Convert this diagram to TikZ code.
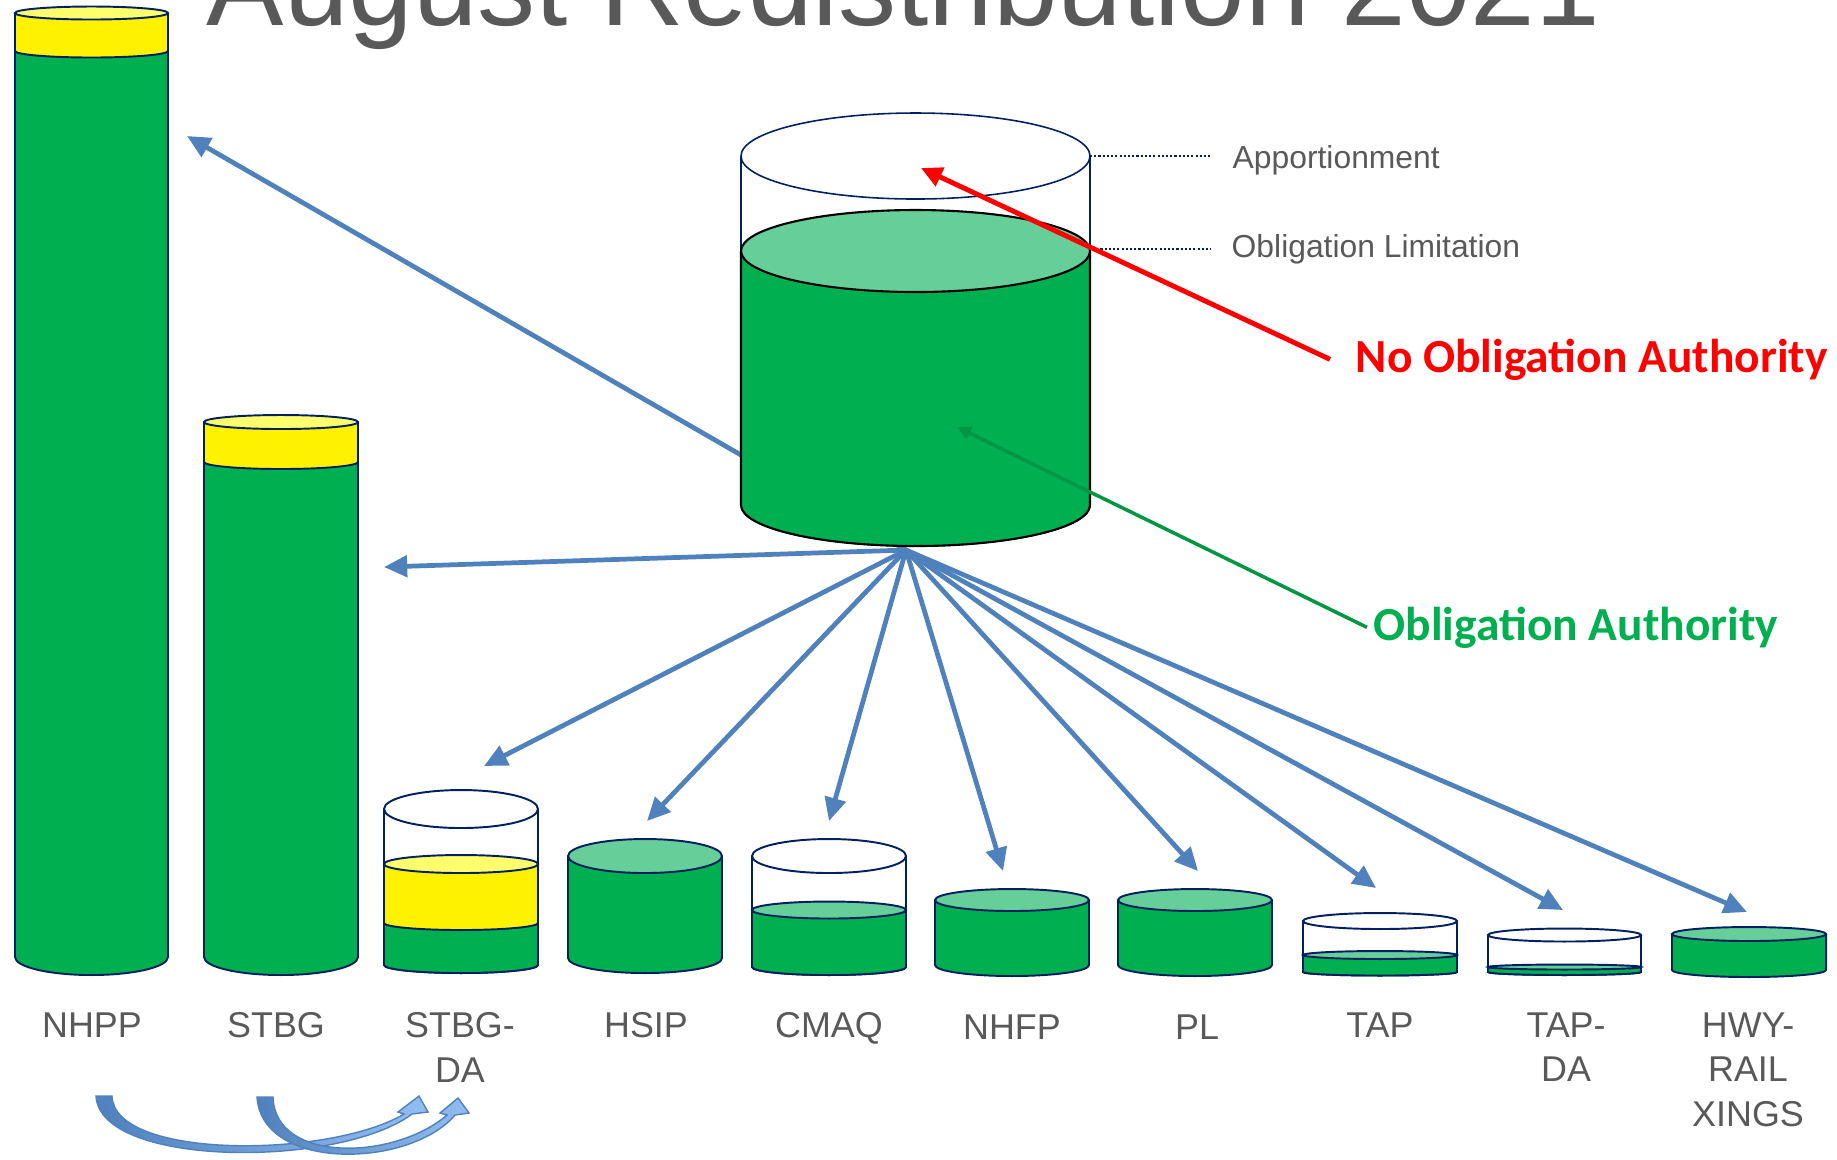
\documentclass[tikz,border=0pt]{standalone}
\usepackage{fontspec}
\setmainfont{Liberation Sans}
\newfontfamily\calibri{Carlito}
\usetikzlibrary{arrows.meta}

\definecolor{fillgreen}{RGB}{0,176,80}
\definecolor{topgreen}{RGB}{102,206,152}
\definecolor{navy}{RGB}{0,32,96}
\definecolor{flowblue}{RGB}{79,129,189}
\definecolor{paleblue}{RGB}{146,190,242}
\definecolor{textgray}{RGB}{89,89,89}
\definecolor{topyellow}{RGB}{255,255,110}

\newcommand{\canbody}[6]{%
  \filldraw[#1] (#2,#4) -- (#2,#5)
    arc[start angle=180,end angle=0,x radius={(#3-#2)/2},y radius=#6] -- (#3,#4);}
\newcommand{\canlid}[5]{%
  \filldraw[#1] ({(#2+#3)/2},#4) ellipse[x radius={(#3-#2)/2},y radius=#5];}

\begin{document}
\begin{tikzpicture}[x=0.01cm,y=-0.01cm,
                    can/.style={fill=fillgreen,draw=navy,line width=0.55pt},
                    lid/.style={fill=topgreen,draw=navy,line width=0.55pt},
                    glass/.style={fill=white,draw=navy,line width=0.55pt},
                    band/.style={fill=yellow,draw=navy,line width=0.55pt},
                    bandlid/.style={fill=topyellow,draw=navy,line width=0.55pt},
                    flow/.style={flowblue,line width=1.35pt,-{Triangle[length=6.6pt,width=6pt]}},
                    bendarrow/.style={left color=flowblue,right color=paleblue,draw=flowblue,line width=0.4pt},
                    leader/.style={draw=navy,line width=0.7pt,dash pattern=on 0.6pt off 0.6pt},
                    label/.style={text=textgray,font=\fontsize{10.2}{12.66}\selectfont,align=center,inner sep=0pt,anchor=north},
                    note/.style={text=textgray,font=\fontsize{9.05}{11}\selectfont,anchor=base west,inner ysep=0pt,inner xsep=0.2cm}]

\useasboundingbox (0,0) rectangle (1837,1159);

\node[text=textgray,font=\fontsize{33}{40}\selectfont,anchor=base west,inner sep=0pt] (TITLE) at (206,25) {August Redistribution 2021};

\coordinate (HUB) at (906,550);
\coordinate (NHPPin) at (187,136);
\coordinate (STBGin) at (384,567);
\coordinate (STBGDAin) at (484,766);
\coordinate (HSIPin) at (647,821);
\coordinate (CMAQin) at (829,821);
\coordinate (NHFPin) at (1003,871);
\coordinate (PLin) at (1198,871);
\coordinate (TAPin) at (1376,888);
\coordinate (TAPDAin) at (1563,910);
\coordinate (HWYin) at (1747,912);

\path[flow] (HUB) edge (NHPPin)
                  edge (STBGin)
                  edge (STBGDAin)
                  edge (HSIPin)
                  edge (CMAQin)
                  edge (NHFPin)
                  edge (PLin)
                  edge (TAPin)
                  edge (TAPDAin)
                  edge (HWYin);

\canbody{glass,line width=0.45pt}{741}{1090}{156}{505}{41}
\canlid{glass,line width=0.45pt}{741}{1090}{156}{43}
\canbody{can,draw=black,line width=0.6pt}{741}{1090}{251}{505}{41}
\canlid{lid,draw=black,line width=0.6pt}{741}{1090}{251}{41}

\coordinate (APPedge) at (1090,156);
\coordinate (OLedge) at (1092,249);
\draw node[note] (APP) at (1212,168) {Apportionment}
      node[note] (OL) at (1211,257) {Obligation Limitation};
\draw[leader] (APPedge) -- (APPedge -| APP.west);
\draw[leader] (OLedge) -- (OLedge -| OL.west);

\canbody{can}{15}{168}{51}{957}{18}
\canbody{band}{15}{168}{13}{51}{6.5}
\canlid{bandlid}{15}{168}{13}{6.5}

\canbody{can}{204}{358}{462}{957}{18}
\canbody{band}{204}{358}{422}{462}{7}
\canlid{bandlid}{204}{358}{422}{7}

\canbody{glass}{384}{538}{809}{965}{8}
\canlid{glass}{384}{538}{809}{19}
\canbody{can}{384}{538}{923}{965}{8}
\canbody{band}{384}{538}{864}{923}{7}
\canlid{bandlid}{384}{538}{864}{9}

\canbody{can}{568}{722}{856}{958}{15}
\canlid{lid}{568}{722}{856}{17}

\canbody{glass}{752}{906}{856}{967}{8}
\canlid{glass}{752}{906}{856}{17}
\canbody{can}{752}{906}{910}{967}{8}
\canlid{lid}{752}{906}{910}{8.5}

\canbody{can}{935}{1089}{900}{965}{11}
\canlid{lid}{935}{1089}{900}{11}

\canbody{can}{1118}{1272}{900}{965}{11}
\canlid{lid}{1118}{1272}{900}{11}

\canbody{glass}{1303}{1457}{921}{972}{3.5}
\canlid{glass}{1303}{1457}{921}{8}
\canbody{can}{1303}{1457}{955}{972}{3.5}
\canlid{lid}{1303}{1457}{955}{4}

\canbody{glass}{1488}{1641}{935}{972}{3}
\canlid{glass}{1488}{1641}{935}{6.5}
\canbody{can}{1488}{1641}{967}{972}{3}
\canlid{lid}{1488}{1641}{967}{2.5}

\canbody{can}{1672}{1826}{934}{970}{7}
\canlid{lid}{1672}{1826}{934}{7}

\draw node[label] (NHPP) at (92,1012) {NHPP}
      node[label] (STBG) at (276,1012) {STBG}
      node[label] (STBGDA) at (460,1012) {STBG-\\DA}
      node[label] (HSIP) at (646,1012) {HSIP}
      node[label] (CMAQ) at (829,1012) {CMAQ}
      node[label] (NHFP) at (1012,1014) {NHFP}
      node[label] (PL) at (1197,1014) {PL}
      node[label] (TAP) at (1380,1012) {TAP}
      node[label] (TAPDA) at (1566,1012) {TAP-\\DA}
      node[label] (HWY) at (1748,1012) {HWY-\\RAIL\\XINGS};

\coordinate (APPtip) at (921,168);
\coordinate (OAtip) at (957,427);
\node[text=red,font=\calibri\bfseries\fontsize{13.5}{16}\selectfont,anchor=base west,inner ysep=0pt,inner xsep=0.25cm] (NOA) at (1330,372) {No Obligation Authority};
\node[text=fillgreen,font=\calibri\bfseries\fontsize{13.5}{16}\selectfont,anchor=base west,inner ysep=0pt,inner xsep=0.06cm] (OA) at (1367,640) {Obligation Authority};
\draw[red,line width=1.4pt,-{Triangle[length=6pt,width=5.6pt]}] (NOA.west) -- (APPtip);
\draw[fillgreen!85!black,line width=1pt,-{Triangle[length=4pt,width=3.8pt]}] (OA.west) -- (OAtip);

\shadedraw[bendarrow] (96,1096) .. controls (100,1168) and (340,1168) .. (412,1114)
      -- (428,1112) -- (419,1096) -- (398,1112) -- (404,1114)
      .. controls (330,1158) and (114,1160) .. (112,1096) -- cycle;
\shadedraw[bendarrow] (257,1097) .. controls (262,1172) and (410,1168) .. (455,1115)
      -- (469,1113) -- (458,1098) -- (440,1113) -- (447,1115)
      .. controls (395,1160) and (275,1164) .. (273,1097) -- cycle;

\end{tikzpicture}
\end{document}
